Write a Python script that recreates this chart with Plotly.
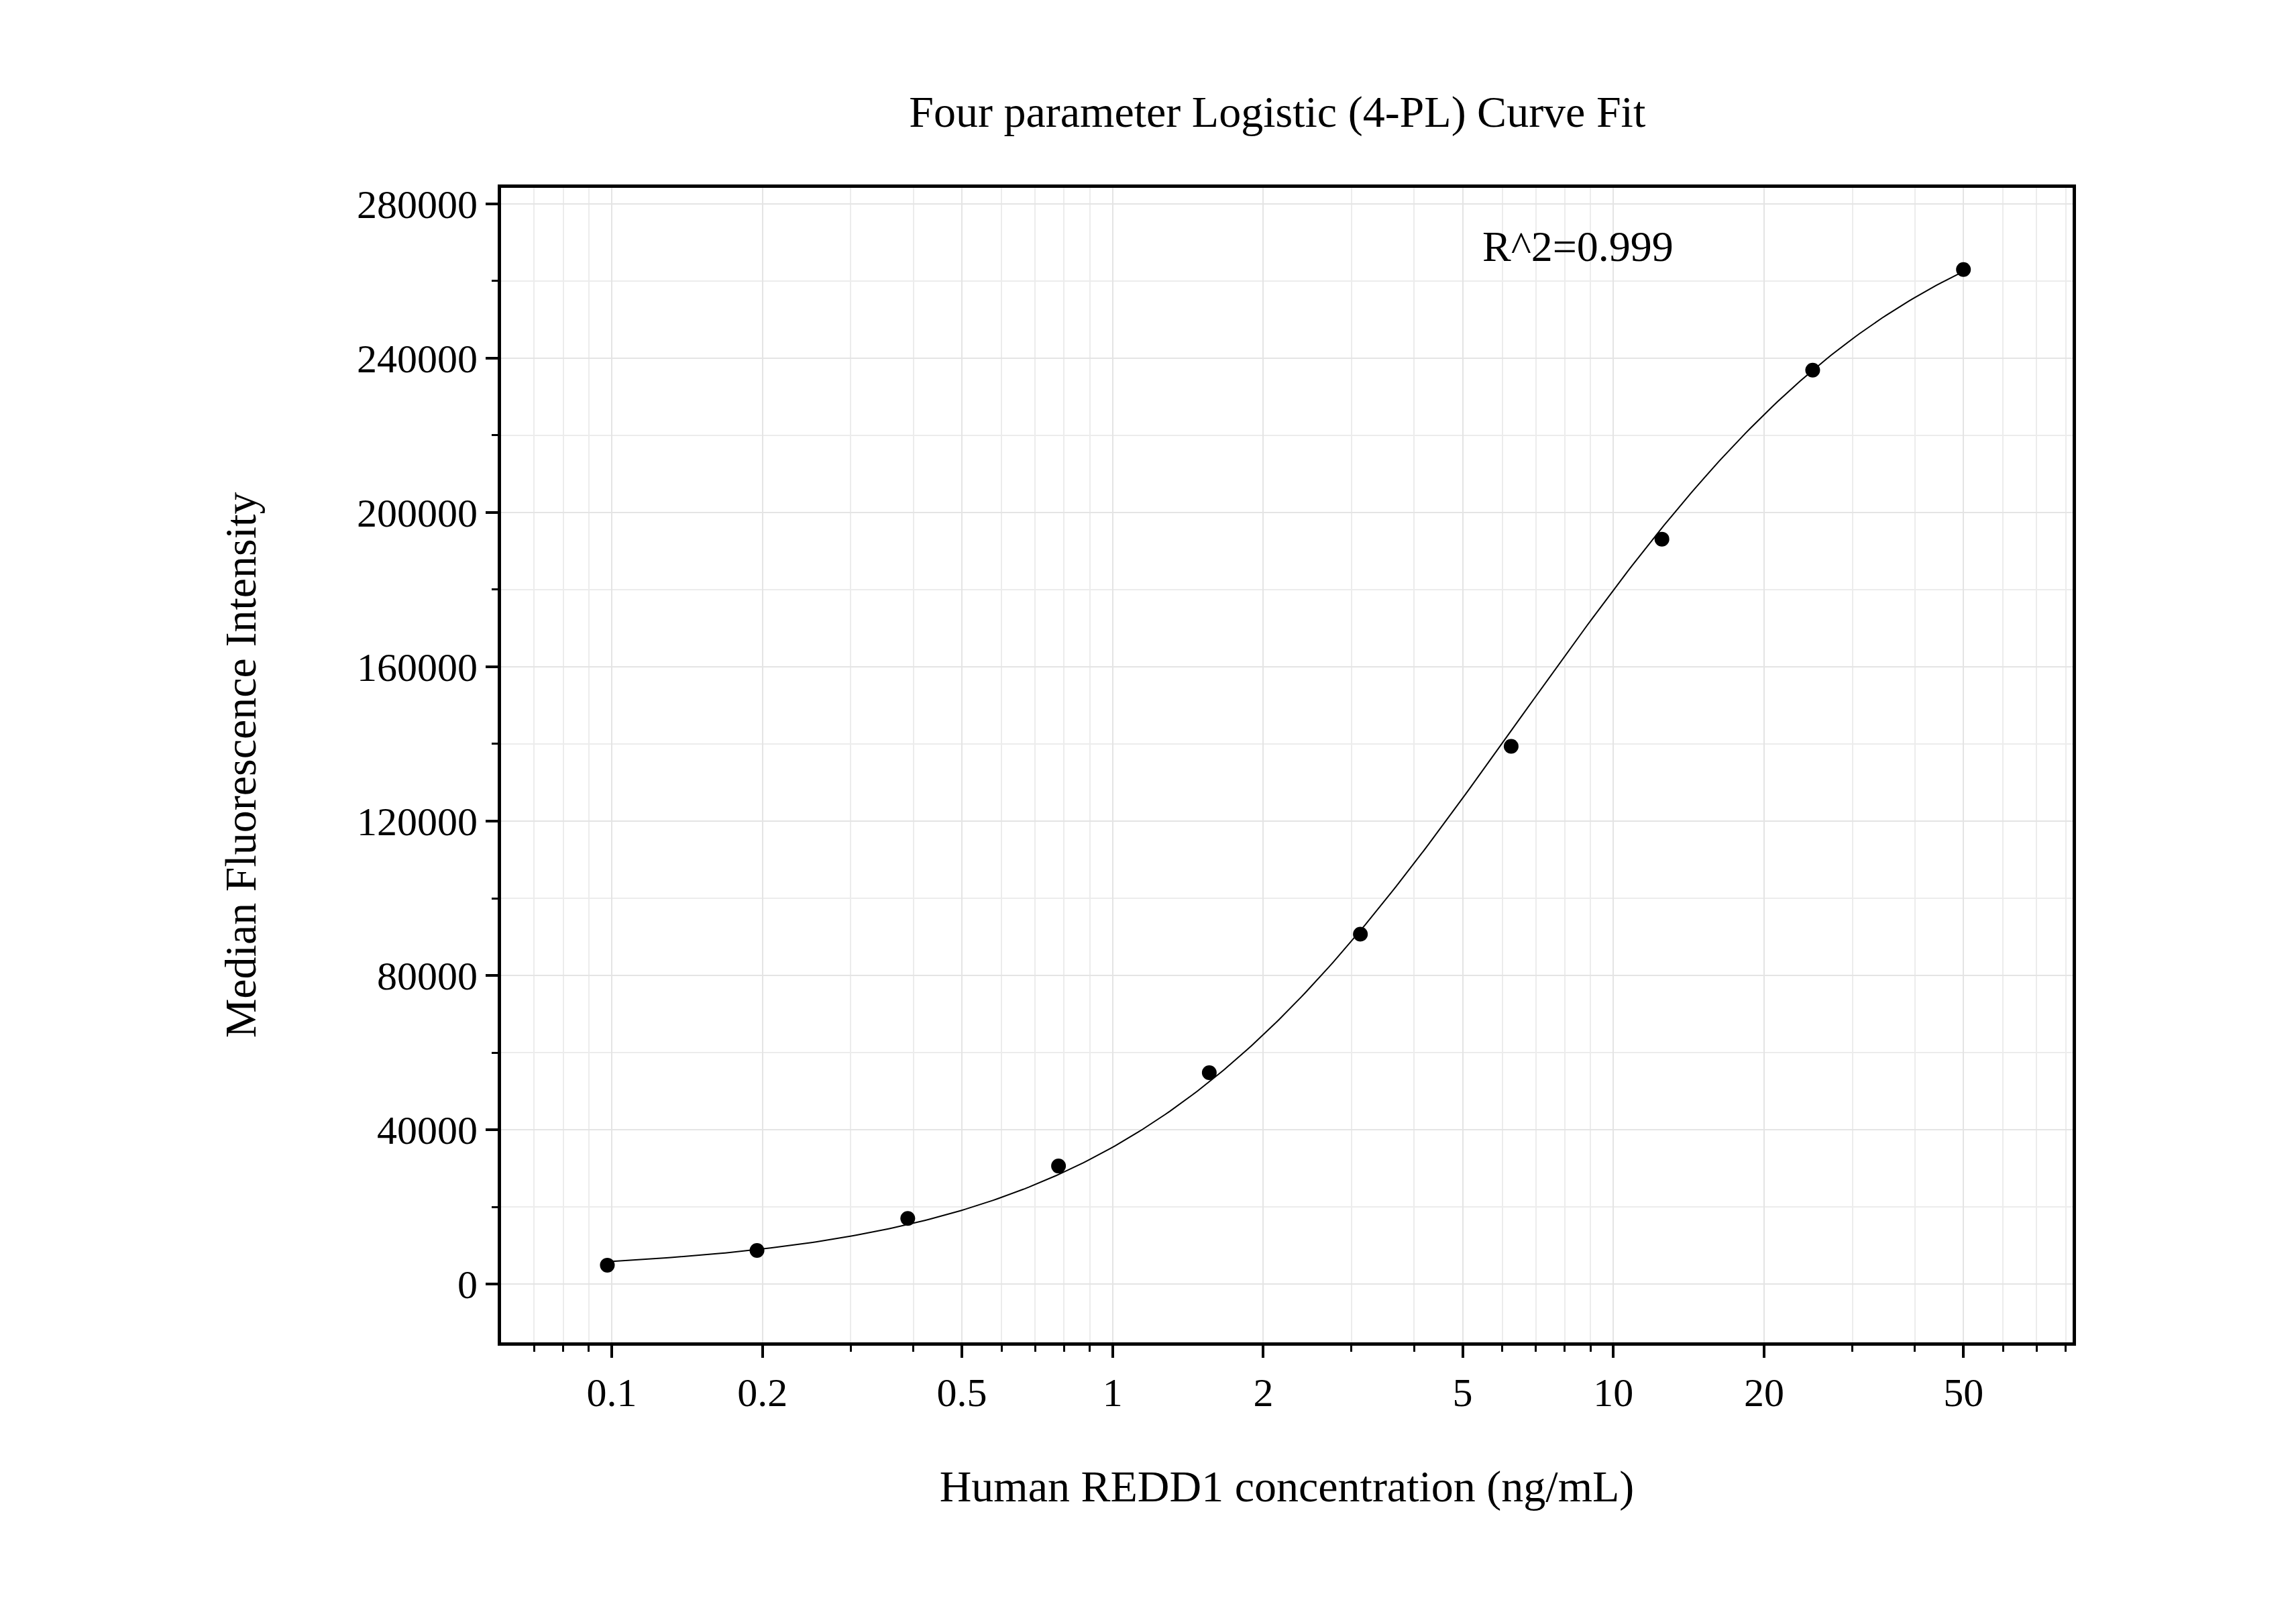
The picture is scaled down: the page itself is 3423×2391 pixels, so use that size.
import numpy as np
import plotly.graph_objects as go

# standard concentrations (ng/mL) and MFI
conc = [0.098, 0.195, 0.39, 0.78, 1.56, 3.125, 6.25, 12.5, 25, 50]
mfi = [4900, 8700, 17000, 30600, 54800, 90700, 139400, 193100, 236900, 263000]

# 4-PL parameters
A, B, C, D = 3000, 1.1, 6.5, 290000

x_ticks = [0.1, 0.2, 0.5, 1, 2, 5, 10, 20, 50]
x_ticktext = ["0.1", "0.2", "0.5", "1", "2", "5", "10", "20", "50"]

xc = np.logspace(np.log10(conc[0]), np.log10(conc[-1]), 300)
yc = D + (A - D) / (1 + (xc / C) ** B)

font = "Liberation Serif"
fig = go.Figure()
fig.add_trace(go.Scatter(x=xc, y=yc, mode="lines", line=dict(color="black", width=2), hoverinfo="skip"))
fig.add_trace(go.Scatter(x=conc, y=mfi, mode="markers", marker=dict(color="black", size=22)))

fig.add_annotation(x=np.log10(8.5), y=269000, text="R^2=0.999", showarrow=False,
                   font=dict(family=font, size=64, color="black"))

fig.update_layout(
    width=3423, height=2391, showlegend=False,
    plot_bgcolor="white", paper_bgcolor="white",
    margin=dict(l=739, r=341, t=272, b=398),
    font=dict(family=font, size=60, color="black"),
    title=dict(text="Four parameter Logistic (4-PL) Curve Fit", x=0.554, xanchor="center",
               y=0.934, yanchor="middle", font=dict(family=font, size=66)),
)
fig.update_xaxes(
    type="log", range=[-1.221, 1.917], tickvals=x_ticks, ticktext=x_ticktext,
    showline=True, linecolor="black", linewidth=5, mirror=True,
    ticks="outside", ticklen=18, tickwidth=4, tickcolor="black",
    showgrid=True, gridcolor="#e4e4e4", gridwidth=2,
    minor=dict(dtick="D1", ticks="outside", ticklen=9, tickwidth=3, tickcolor="black",
               showgrid=True, gridcolor="#ececec", gridwidth=2),
    zeroline=False,
    title=dict(text="Human REDD1 concentration (ng/mL)", standoff=85, font=dict(size=66)),
)
fig.update_yaxes(
    range=[-15115, 284157], tickvals=list(range(0, 280001, 40000)), tickformat="d",
    showline=True, linecolor="black", linewidth=5, mirror=True,
    ticks="outside", ticklen=18, tickwidth=4, tickcolor="black",
    showgrid=True, gridcolor="#e4e4e4", gridwidth=2,
    minor=dict(dtick=20000, ticks="outside", ticklen=9, tickwidth=3, tickcolor="black",
               showgrid=True, gridcolor="#ececec", gridwidth=2),
    zeroline=False,
    title=dict(text="Median Fluorescence Intensity", standoff=130, font=dict(size=66)),
)

fig.write_html("out.html")
